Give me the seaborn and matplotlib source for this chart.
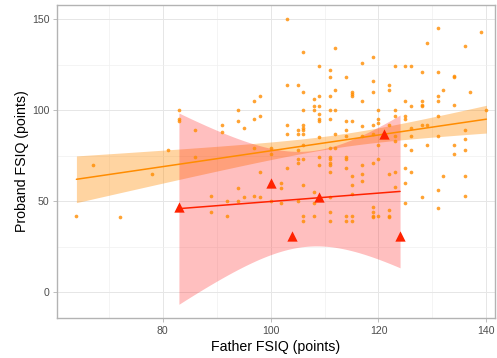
import math
import numpy as np
import pandas as pd
import matplotlib
matplotlib.use("Agg")
import matplotlib.pyplot as plt
import seaborn as sns
from matplotlib.ticker import MultipleLocator

# ---------------- data ----------------
family_father = [64, 67, 72, 78, 81, 83, 83, 83, 86, 86, 89, 89, 91, 91, 92, 92,
                 94, 94, 94, 94, 95, 95, 97, 97, 97, 97, 98, 98, 98, 98,
                 100, 100, 100,
                 102, 102, 102,
                 103, 103, 103, 103, 103,
                 105, 105, 105, 105, 105, 105, 105,
                 106, 106, 106, 106, 106, 106, 106, 106, 106, 106, 106, 106,
                 108, 108, 108, 108, 108, 108,
                 109, 109, 109, 109, 109, 109, 109, 109, 109,
                 111, 111, 111, 111, 111, 111, 111, 111, 111, 111, 111, 111, 111, 111,
                 112, 112, 112, 112, 112,
                 114, 114, 114, 114, 114, 114, 114, 114, 114,
                 115, 115, 115, 115, 115, 115, 115, 115, 115,
                 117, 117, 117, 117, 117, 117, 117,
                 119, 119, 119, 119, 119, 119, 119, 119, 119, 119,
                 120, 120, 120, 120, 120, 120,
                 122, 122, 122, 122, 122, 122, 122,
                 123, 123, 123, 123, 123, 123, 123,
                 125, 125, 125, 125, 125, 125, 125, 125,
                 126, 126, 126, 126, 126, 126,
                 128, 128, 128, 128, 128, 128,
                 129, 129, 129,
                 131, 131, 131, 131, 131, 131, 131, 131,
                 132, 132,
                 134, 134, 134, 134, 134,
                 136, 136, 136, 136, 136, 136,
                 137, 139, 140]
family_proband = [42, 70, 41, 65, 78, 100, 95, 94, 89, 74, 53, 44, 92, 88, 50, 42,
                  100, 94, 57, 50, 90, 52, 105, 95, 79, 53, 108, 97, 66, 52,
                  79, 76, 50,
                  60, 57, 49,
                  150, 114, 92, 87, 68,
                  114, 89, 87, 78, 73, 71, 50,
                  132, 110, 100, 92, 90, 89, 87, 81, 73, 59, 42, 39,
                  106, 102, 100, 55, 49, 42,
                  124, 108, 102, 98, 95, 94, 85, 74, 70,
                  122, 118, 108, 100, 95, 79, 74, 73, 71, 70, 66, 52, 44, 39,
                  134, 111, 100, 87, 79,
                  118, 94, 89, 86, 74, 73, 68, 42, 39,
                  110, 109, 108, 94, 64, 59, 54, 42, 39,
                  126, 105, 91, 86, 70, 65, 61,
                  129, 116, 110, 92, 87, 71, 47, 44, 42, 41,
                  100, 95, 93, 81, 73, 42,
                  114, 111, 92, 65, 45, 42, 41,
                  124, 100, 97, 86, 83, 66, 58,
                  124, 105, 97, 95, 81, 68, 60, 49,
                  124, 102, 90, 86, 78, 66,
                  121, 105, 103, 102, 92, 52,
                  137, 92, 81,
                  145, 121, 108, 105, 97, 86, 56, 46,
                  111, 64,
                  119, 118, 103, 81, 76,
                  135, 89, 84, 78, 64, 53,
                  110, 143, 100]

case_father = [83, 100, 104, 109, 121, 124]
case_proband = [47, 60, 31, 52, 87, 31]

x_ticks = [80, 100, 120, 140]
y_ticks = [0, 50, 100, 150]

df_family = pd.DataFrame({"father": family_father, "proband": family_proband})
df_case = pd.DataFrame({"father": case_father, "proband": case_proband})


# ---------------- helpers: analytic 95% CI for linear fit ----------------
def t_quantile(p, dof):
    c = math.exp(math.lgamma((dof + 1) / 2) - math.lgamma(dof / 2)) / math.sqrt(dof * math.pi)
    grid = np.linspace(0, 20, 200001)
    pdf = c * (1 + grid ** 2 / dof) ** (-(dof + 1) / 2)
    cdf = 0.5 + np.concatenate([[0], np.cumsum((pdf[1:] + pdf[:-1]) / 2 * np.diff(grid))])
    return float(np.interp(p, cdf, grid))


def fit_band(x, y, n=200):
    x = np.asarray(x, float)
    y = np.asarray(y, float)
    slope, intercept = np.polyfit(x, y, 1)
    resid = y - (intercept + slope * x)
    dof = len(x) - 2
    s = math.sqrt(np.sum(resid ** 2) / dof)
    xs = np.linspace(x.min(), x.max(), n)
    se = s * np.sqrt(1 / len(x) + (xs - x.mean()) ** 2 / np.sum((x - x.mean()) ** 2))
    t = t_quantile(0.975, dof)
    yhat = intercept + slope * xs
    return xs, yhat - t * se, yhat + t * se


# ---------------- figure ----------------
sns.set_theme(style="white")
plt.rcParams["font.family"] = ["Liberation Sans", "DejaVu Sans"]

fig = plt.figure(figsize=(4.97, 3.58), dpi=100)
ax = fig.add_axes([57 / 497, 1 - 318 / 358, (495 - 57) / 497, (318 - 5) / 358])

orange = "#FF8C00"
red = "#FF2200"

# grid
ax.set_axisbelow(True)
ax.xaxis.set_minor_locator(MultipleLocator(10))
ax.yaxis.set_minor_locator(MultipleLocator(25))
ax.grid(True, which="major", color="#E6E6E6", linewidth=0.7)
ax.grid(True, which="minor", color="#F0F0F0", linewidth=0.5)

# bands
xs, lo, hi = fit_band(family_father, family_proband)
ax.fill_between(xs, lo, hi, color=orange, alpha=0.37, linewidth=0, zorder=1)
xs2, lo2, hi2 = fit_band(case_father, case_proband)
ax.fill_between(xs2, lo2, hi2, color="#FF1A1A", alpha=0.28, linewidth=0, zorder=2)

# points & fit lines
sns.regplot(data=df_family, x="father", y="proband", ax=ax, ci=None,
            scatter_kws=dict(s=7, color=orange, alpha=0.8, linewidths=0, zorder=3),
            line_kws=dict(color=orange, linewidth=1.1, zorder=4))
sns.regplot(data=df_case, x="father", y="proband", ax=ax, ci=None, marker="^",
            scatter_kws=dict(s=55, color=red, alpha=1, linewidths=0, zorder=5),
            line_kws=dict(color=red, linewidth=1.1, zorder=4))

ax.set_xlim(60.4, 141.6)
ax.set_ylim(-14.3, 157.8)
ax.set_xticks(x_ticks)
ax.set_yticks(y_ticks)
ax.set_xticklabels([str(v) for v in x_ticks])
ax.set_yticklabels([str(v) for v in y_ticks])

ax.tick_params(axis="both", which="major", length=3, width=0.6, color="#B3B3B3",
               labelsize=7.6, labelcolor="#4D4D4D", pad=2.5, bottom=True, left=True)
ax.tick_params(axis="both", which="minor", length=0)

for side in ["left", "bottom", "top", "right"]:
    ax.spines[side].set_color("#B3B3B3")
    ax.spines[side].set_linewidth(1.0)

ax.set_xlabel("Father FSIQ (points)", fontsize=10.2, color="black", labelpad=3)
ax.set_ylabel("Proband FSIQ (points)", fontsize=10.2, color="black", labelpad=2)

fig.savefig("out.png", dpi=100)
